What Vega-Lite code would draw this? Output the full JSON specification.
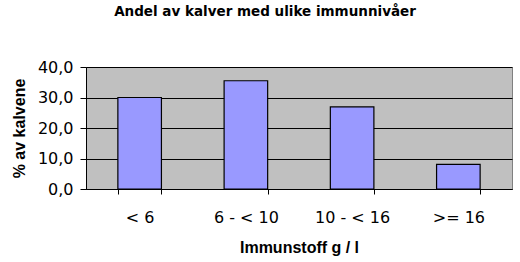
{
  "$schema": "https://vega.github.io/schema/vega-lite/v6.json",
  "autosize": "none",
  "width": 426,
  "height": 122,
  "padding": {"left": 86, "top": 67, "right": 8, "bottom": 73},
  "background": "white",
  "title": {
    "text": "Andel av kalver med ulike immunnivåer",
    "font": "DejaVu Sans",
    "fontSize": 13.5,
    "fontWeight": "bold",
    "color": "black",
    "anchor": "middle",
    "dx": -34,
    "offset": 41
  },
  "config": {
    "view": {"fill": "#C0C0C0", "stroke": "#808080", "strokeWidth": 1},
    "axis": {"labelFont": "DejaVu Sans", "titleFont": "Liberation Sans", "labelColor": "black", "titleColor": "black"}
  },
  "data": {
    "values": [
      {"kategori": "< 6", "andel": 30.0},
      {"kategori": "6 - < 10", "andel": 35.5},
      {"kategori": "10 - < 16", "andel": 26.9},
      {"kategori": ">= 16", "andel": 8.1}
    ]
  },
  "mark": {"type": "bar", "color": "#9999FF", "stroke": "black", "strokeWidth": 1.2},
  "encoding": {
    "x": {
      "field": "kategori",
      "type": "nominal",
      "sort": null,
      "scale": {"paddingInner": 0.59, "paddingOuter": 0.3},
      "axis": {
        "title": "Immunstoff g / l",
        "titleFontSize": 16,
        "titleFontWeight": "bold",
        "titlePadding": 14,
        "labelFontSize": 16,
        "labelAngle": 0,
        "labelPadding": 15,
        "tickBand": "extent",
        "tickColor": "black",
        "tickSize": 5,
        "domainColor": "black",
        "grid": false
      }
    },
    "y": {
      "field": "andel",
      "type": "quantitative",
      "scale": {"domain": [0, 40], "nice": false},
      "axis": {
        "title": "% av kalvene",
        "titleFontSize": 16,
        "titleFontWeight": "bold",
        "titlePadding": 10,
        "values": [0, 10, 20, 30, 40],
        "labelExpr": "replace(format(datum.value, '.1f'), '.', ',')",
        "labelFontSize": 16,
        "labelPadding": 7,
        "tickColor": "black",
        "tickSize": 6,
        "domainColor": "black",
        "grid": true,
        "gridColor": "black",
        "gridOpacity": 1
      }
    }
  }
}
